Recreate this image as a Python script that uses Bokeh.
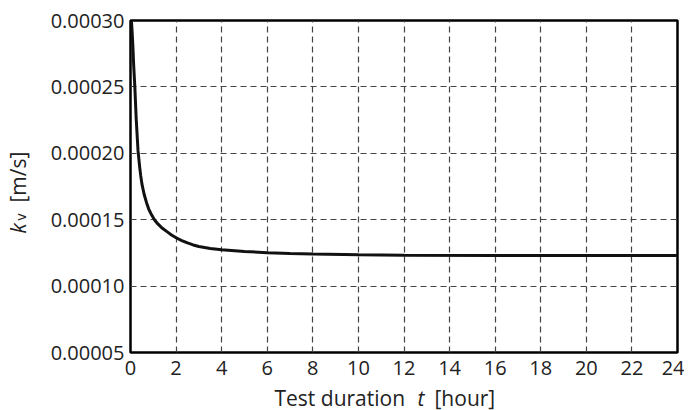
import numpy as np
from bokeh.plotting import figure
from bokeh.layouts import row, column
from bokeh.models import FixedTicker, PrintfTickFormatter, Range1d
from bokeh.core.properties import value
from bokeh.embed import file_html
from bokeh.resources import INLINE

# Data
t_hours = [0.04, 0.07, 0.10, 0.14, 0.19, 0.25, 0.33, 0.40, 0.45, 0.50, 0.60, 0.70,
           0.80, 0.90, 1.05, 1.20, 1.40, 1.60, 1.80, 2.00, 2.25, 2.50, 2.75, 3.00,
           3.50, 4.00, 5.00, 6.00, 7.00, 8.00, 10.0, 12.0, 16.0, 20.0, 24.0]
k_v = [0.000300, 0.000292, 0.000282, 0.000266, 0.000250, 0.000226, 0.000202, 0.000190,
       0.000183, 0.000177, 0.000169, 0.000163, 0.000158, 0.0001545, 0.000150,
       0.0001468, 0.0001435, 0.000141, 0.0001385, 0.0001364, 0.0001343, 0.0001325,
       0.000131, 0.0001298, 0.0001283, 0.0001273, 0.000126, 0.0001252, 0.0001246,
       0.0001242, 0.0001236, 0.0001233, 0.0001231, 0.000123, 0.000123]

x_ticks = list(range(0, 25, 2))
y_ticks = [0.00005, 0.00010, 0.00015, 0.00020, 0.00025, 0.00030]
x_min, x_max = 0, 24
y_min, y_max = 0.00005, 0.00030

x_label_parts = ["Test duration", "t", "[hour]"]
y_label_parts = ["k", "v", "[m/s]"]

FONT = "Open Sans"
TXT = "#222222"

TOTAL_H = 410
LW = 40           # width of the y-label strip
MW = 644          # width of the main figure
BL, BT = 90, 20
FW, FH = 547, 332
BR = MW - BL - FW
MH = 382
BB = MH - BT - FH
XH = TOTAL_H - MH  # height of the x-label strip
FRAME_L = LW + BL
FRAME_R = FRAME_L + FW

p = figure(width=MW, height=MH, output_backend="svg", toolbar_location=None,
           x_range=Range1d(x_min, x_max), y_range=Range1d(y_min, y_max),
           min_border_left=BL, min_border_right=BR, min_border_top=BT,
           min_border_bottom=BB)
p.outline_line_color = "black"
p.outline_line_width = 2.5

for ax in (p.xaxis[0], p.yaxis[0]):
    ax.axis_line_color = None
    ax.major_tick_in = 0
    ax.major_tick_out = 0
    ax.minor_tick_in = 0
    ax.minor_tick_out = 0
    ax.major_label_text_font = FONT
    ax.major_label_text_font_size = "20px"
    ax.major_label_text_color = TXT

p.xaxis.ticker = FixedTicker(ticks=x_ticks)
p.yaxis.ticker = FixedTicker(ticks=y_ticks)
p.yaxis.formatter = PrintfTickFormatter(format="%.5f")
p.xaxis.major_label_standoff = 8
p.yaxis.major_label_standoff = 6

for g in (p.xgrid[0], p.ygrid[0]):
    g.grid_line_color = "#444444"
    g.grid_line_width = 1.2
    g.grid_line_dash = "6 4"

p.line(t_hours, k_v, line_color="#111111", line_width=3)


def strip(w, h, xr):
    f = figure(width=w, height=h, output_backend="svg", toolbar_location=None,
               x_range=Range1d(*xr), y_range=Range1d(0, h),
               x_axis_type=None, y_axis_type=None, title=None,
               min_border=0, min_border_left=0, min_border_right=0,
               min_border_top=0, min_border_bottom=0)
    f.outline_line_color = None
    f.xgrid.visible = False
    f.ygrid.visible = False
    return f

# y-label strip: x in page px, y = TOTAL_H - page y
yl = strip(LW, TOTAL_H, (0, LW))
def ytxt(px, py, s, size, style="normal"):
    yl.text(x=[px], y=[TOTAL_H - py], text=[s], angle=np.pi / 2,
            text_font=value(FONT), text_font_size=value(size),
            text_font_style=style, text_align="left", text_baseline="alphabetic",
            text_color=TXT)
ytxt(17, 233, y_label_parts[0], "21px", "italic")
ytxt(20, 220, y_label_parts[1], "14px")
ytxt(17, 202, y_label_parts[2], "21px")

# x-label strip: frame is aligned with the main frame, so x range = page px of the frame
xl = strip(MW, XH, (FRAME_L, FRAME_R))
def xtxt(px, py, s, size, style="normal"):
    xl.text(x=[px], y=[TOTAL_H - py], text=[s],
            text_font=value(FONT), text_font_size=value(size),
            text_font_style=style, text_align="left", text_baseline="alphabetic",
            text_color=TXT)
xtxt(274, 397, x_label_parts[0], "21px")
xtxt(417, 397, x_label_parts[1], "21px", "italic")
xtxt(434, 397, x_label_parts[2], "21px")

layout = row(yl, column(p, xl, spacing=0), spacing=0)

open("out.html", "w").write(file_html(layout, INLINE))
